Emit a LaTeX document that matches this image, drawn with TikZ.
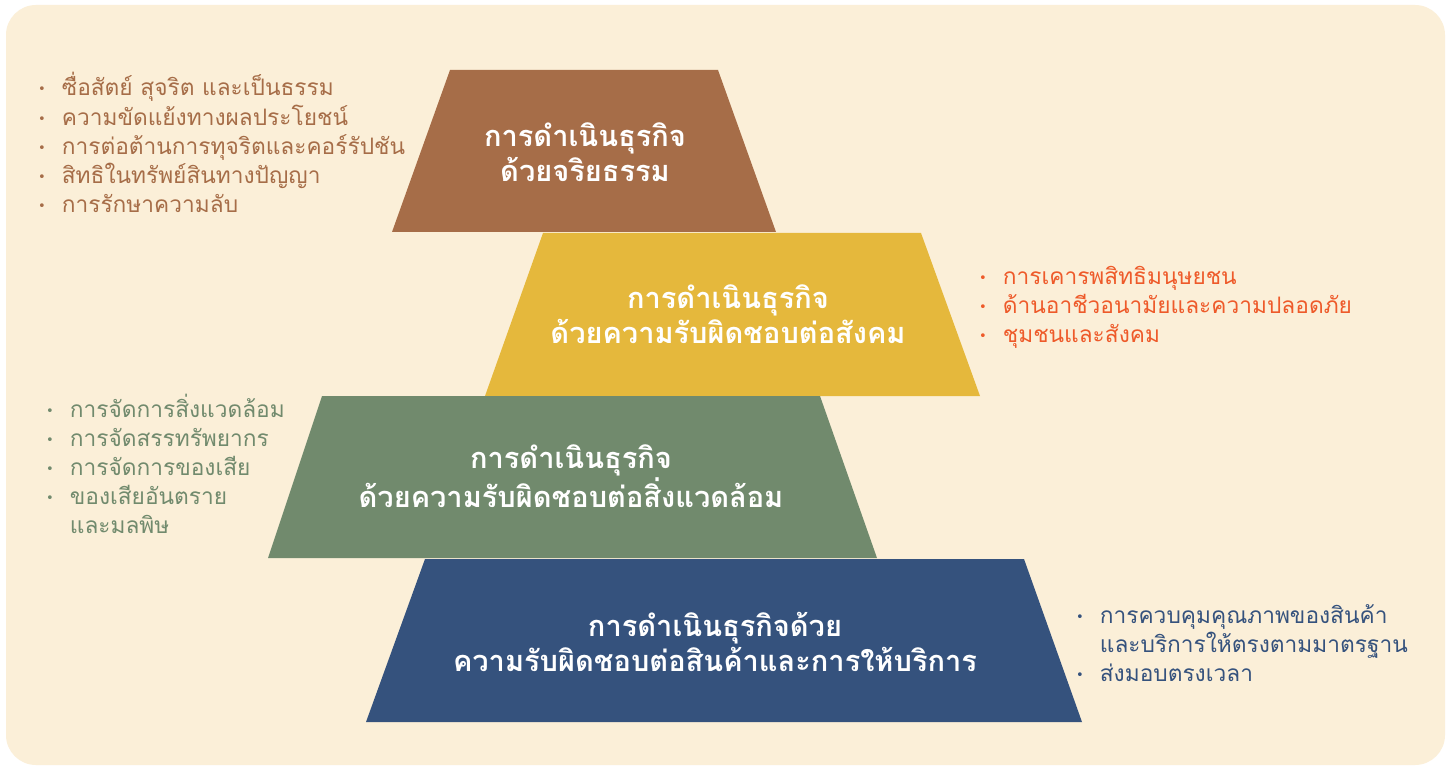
\documentclass[tikz,border=0pt]{standalone}
\usepackage{fontspec}
\newfontfamily\thaifont[Script=Thai]{Loma}
\newfontfamily\symfont{DejaVu Sans}
\definecolor{cream}{HTML}{FBEFD8}
\definecolor{ebrown}{HTML}{A66D48}
\definecolor{eyellow}{HTML}{E5B83C}
\definecolor{egreen}{HTML}{718A6D}
\definecolor{eblue}{HTML}{35527D}
\definecolor{eorange}{HTML}{EE5A2A}
\newcommand{\bul}{\raisebox{2pt}{\symfont\fontsize{13}{13}\selectfont •}}
\tikzset{
	title/.style={text=white, align=center, inner sep=0pt, font=\thaifont\bfseries\fontsize{29}{35}\selectfont},
	itemlist/.style={anchor=base west, inner sep=0pt, font=\thaifont\fontsize{22.7}{29}\selectfont}
}

\begin{document}
\begin{tikzpicture}
	[x=1pt,y=-1pt]
	\fill[white] (0,0) rectangle (1451,767);
	\useasboundingbox (0,0) rectangle (1451,767);
	\fill[cream, rounded corners=30pt] (6,5) rectangle (1445,765);
	
	% pyramid levels
	\fill[ebrown] (450,70) -- (718,70) -- (776,232) -- (392,232) -- cycle;
	\fill[eyellow] (543,233) -- (921,233) -- (980,396) -- (485,396) -- cycle;
	\fill[egreen] (322,396) -- (820,396) -- (877,558) -- (268,558) -- cycle;
	\fill[eblue] (425,559) -- (1024,559) -- (1082,722) -- (366,722) -- cycle;
	
	\node[title] (ethics) at (585,152) {การดำเนินธุรกิจ\\ด้วยจริยธรรม};
	\node[title] (society) at (728,314) {การดำเนินธุรกิจ\\ด้วยความรับผิดชอบต่อสังคม};
	\node[title] (environ) at (571,476) {การดำเนินธุรกิจ\\ด้วยความรับผิดชอบต่อสิ่งแวดล้อม};
	\node[title] (product) at (715,642) {การดำเนินธุรกิจด้วย\\ความรับผิดชอบต่อสินค้าและการให้บริการ};
	
	% bullet lists
	\node[itemlist, text=ebrown] (ethicslist) at (38,96) {\begin{tabular}[t]{@{}l@{\hspace{16pt}}l@{}}
		\bul & ซื่อสัตย์ สุจริต และเป็นธรรม\\
		\bul & ความขัดแย้งทางผลประโยชน์\\
		\bul & การต่อต้านการทุจริตและคอร์รัปชัน\\
		\bul & สิทธิในทรัพย์สินทางปัญญา\\
		\bul & การรักษาความลับ
	\end{tabular}};
	\node[itemlist, text=eorange] (societylist) at (979,285) {\begin{tabular}[t]{@{}l@{\hspace{16pt}}l@{}}
		\bul & การเคารพสิทธิมนุษยชน\\
		\bul & ด้านอาชีวอนามัยและความปลอดภัย\\
		\bul & ชุมชนและสังคม
	\end{tabular}};
	\node[itemlist, text=egreen] (environlist) at (46,417) {\begin{tabular}[t]{@{}l@{\hspace{16pt}}l@{}}
		\bul & การจัดการสิ่งแวดล้อม\\
		\bul & การจัดสรรทรัพยากร\\
		\bul & การจัดการของเสีย\\
		\bul & ของเสียอันตราย\\
		 & และมลพิษ
	\end{tabular}};
	\node[itemlist, text=eblue] (productlist) at (1076,623) {\begin{tabular}[t]{@{}l@{\hspace{16pt}}l@{}}
		\bul & การควบคุมคุณภาพของสินค้า\\
		 & และบริการให้ตรงตามมาตรฐาน\\
		\bul & ส่งมอบตรงเวลา
	\end{tabular}};
\end{tikzpicture}
\end{document}
